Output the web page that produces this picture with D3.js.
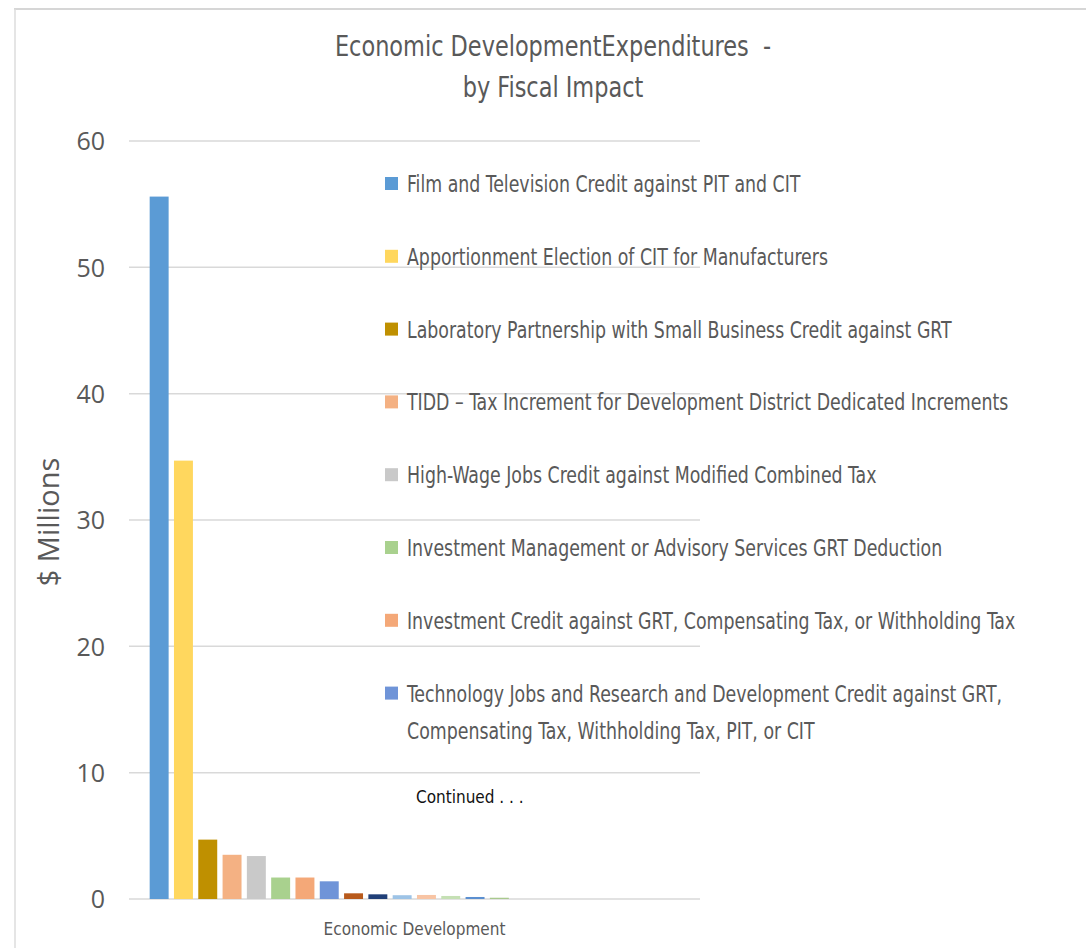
<!DOCTYPE html>
<html>
<head>
<meta charset="utf-8">
<script src="https://cdn.jsdelivr.net/npm/d3@7"></script>
<style>
  html, body { margin: 0; padding: 0; background: #fff; }
  svg { display: block; }
</style>
</head>
<body>
<svg id="chart" width="1086" height="948"></svg>
<script>
// Economic development expenditures, $ millions, one bar per program
const category = ["Economic Development"];
const values = [55.6, 34.7, 4.7, 3.5, 3.4, 1.7, 1.7, 1.4, 0.45, 0.37, 0.3, 0.32, 0.24, 0.16, 0.1];
const colors = ["#5b9bd5", "#ffd75e", "#bf9000", "#f4b183", "#c9c9c9", "#a9d18e", "#f4a878",
                "#6f94d8", "#b85a1b", "#203f78", "#9dc3e6", "#f8c4a4", "#c5e0b4", "#5b8fd0", "#a9c98e"];
const legendLabels = [
  ["Film and Television Credit against PIT and CIT"],
  ["Apportionment Election of CIT for Manufacturers"],
  ["Laboratory Partnership with Small Business Credit against GRT"],
  ["TIDD \u2013 Tax Increment for Development District Dedicated Increments"],
  ["High-Wage Jobs Credit against Modified Combined Tax"],
  ["Investment Management or Advisory Services GRT Deduction"],
  ["Investment Credit against GRT, Compensating Tax, or Withholding Tax"],
  ["Technology Jobs and Research and Development Credit against GRT,", "Compensating Tax, Withholding Tax, PIT, or CIT"]
];
const yTicks = [0, 10, 20, 30, 40, 50, 60];
const titleLines = ["Economic DevelopmentExpenditures  -", "by Fiscal Impact"];

const svg = d3.select("#chart");
const narrow = "'Liberation Sans Narrow', 'DejaVu Sans Condensed', 'Liberation Sans', sans-serif";
const textGray = "#595959";

// slide frame
svg.append("line").attr("x1", 14).attr("x2", 1086).attr("y1", 9).attr("y2", 9)
  .attr("stroke", "#d6d6d6").attr("stroke-width", 2);
svg.append("line").attr("x1", 15).attr("x2", 15).attr("y1", 9).attr("y2", 948)
  .attr("stroke", "#dcdcdc").attr("stroke-width", 1.5);

// scales
const plot = { left: 129, right: 700, top: 141, bottom: 899 };
const y = d3.scaleLinear().domain([0, 60]).range([plot.bottom, plot.top]);
const x0 = d3.scaleBand().domain(category).range([plot.left, plot.right]);
const x1 = d3.scaleBand().domain(d3.range(values.length))
  .range([18, 18 + values.length * 24.3]).paddingInner(0.22).paddingOuter(0.11);

// gridlines
svg.append("g").selectAll("line").data(yTicks).join("line")
  .attr("x1", plot.left).attr("x2", plot.right)
  .attr("y1", d => y(d)).attr("y2", d => y(d))
  .attr("stroke", "#d9d9d9").attr("stroke-width", 1.5);

// y axis labels
const yAxis = svg.append("g").attr("transform", `translate(${plot.left - 24},0)`)
  .call(d3.axisLeft(y).tickValues(yTicks).tickSize(0).tickPadding(0));
yAxis.select(".domain").remove();
yAxis.selectAll("text").attr("font-family", "'Open Sans', sans-serif")
  .attr("font-size", 25).attr("fill", textGray).attr("dy", "0.35em");

svg.append("text")
  .attr("transform", `translate(59,${(plot.top + plot.bottom) / 2 + 2}) rotate(-90)`)
  .attr("text-anchor", "middle")
  .attr("font-family", "'Open Sans', sans-serif").attr("font-size", 29).attr("fill", textGray)
  .text("$ Millions");

// bars
const group = svg.append("g").attr("transform", `translate(${x0(category[0])},0)`);
group.selectAll("rect").data(values).join("rect")
  .attr("x", (d, i) => x1(i))
  .attr("width", x1.bandwidth())
  .attr("y", d => y(d))
  .attr("height", d => y(0) - y(d))
  .attr("fill", (d, i) => colors[i]);

// category label
svg.append("text")
  .attr("x", x0(category[0]) + x0.bandwidth() / 2).attr("y", 935)
  .attr("text-anchor", "middle")
  .attr("font-family", narrow).attr("font-size", 17).attr("fill", textGray)
  .text(category[0]);

// title (horizontally condensed)
svg.append("g").selectAll("text").data(titleLines).join("text")
  .attr("transform", (d, i) => `translate(553,${56 + i * 41}) scale(0.89,1)`)
  .attr("text-anchor", "middle")
  .attr("font-family", narrow).attr("font-size", 28).attr("fill", textGray)
  .attr("xml:space", "preserve")
  .text(d => d);

// legend
const legend = svg.append("g");
const items = legend.selectAll("g").data(legendLabels).join("g")
  .attr("transform", (d, i) => `translate(385,${184 + i * 72.8})`);
items.append("rect").attr("x", 0).attr("y", -7).attr("width", 13).attr("height", 13)
  .attr("fill", (d, i) => colors[i]);
items.selectAll("text").data(d => d).join("text")
  .attr("transform", (d, i) => `translate(22,${i * 37}) scale(0.84,1)`)
  .attr("dy", "0.35em")
  .attr("font-family", narrow).attr("font-size", 23).attr("fill", textGray)
  .text(d => d);

svg.append("text").attr("x", 416).attr("y", 803)
  .attr("font-family", narrow).attr("font-size", 17).attr("fill", "#111")
  .text("Continued . . .");
</script>
</body>
</html>
